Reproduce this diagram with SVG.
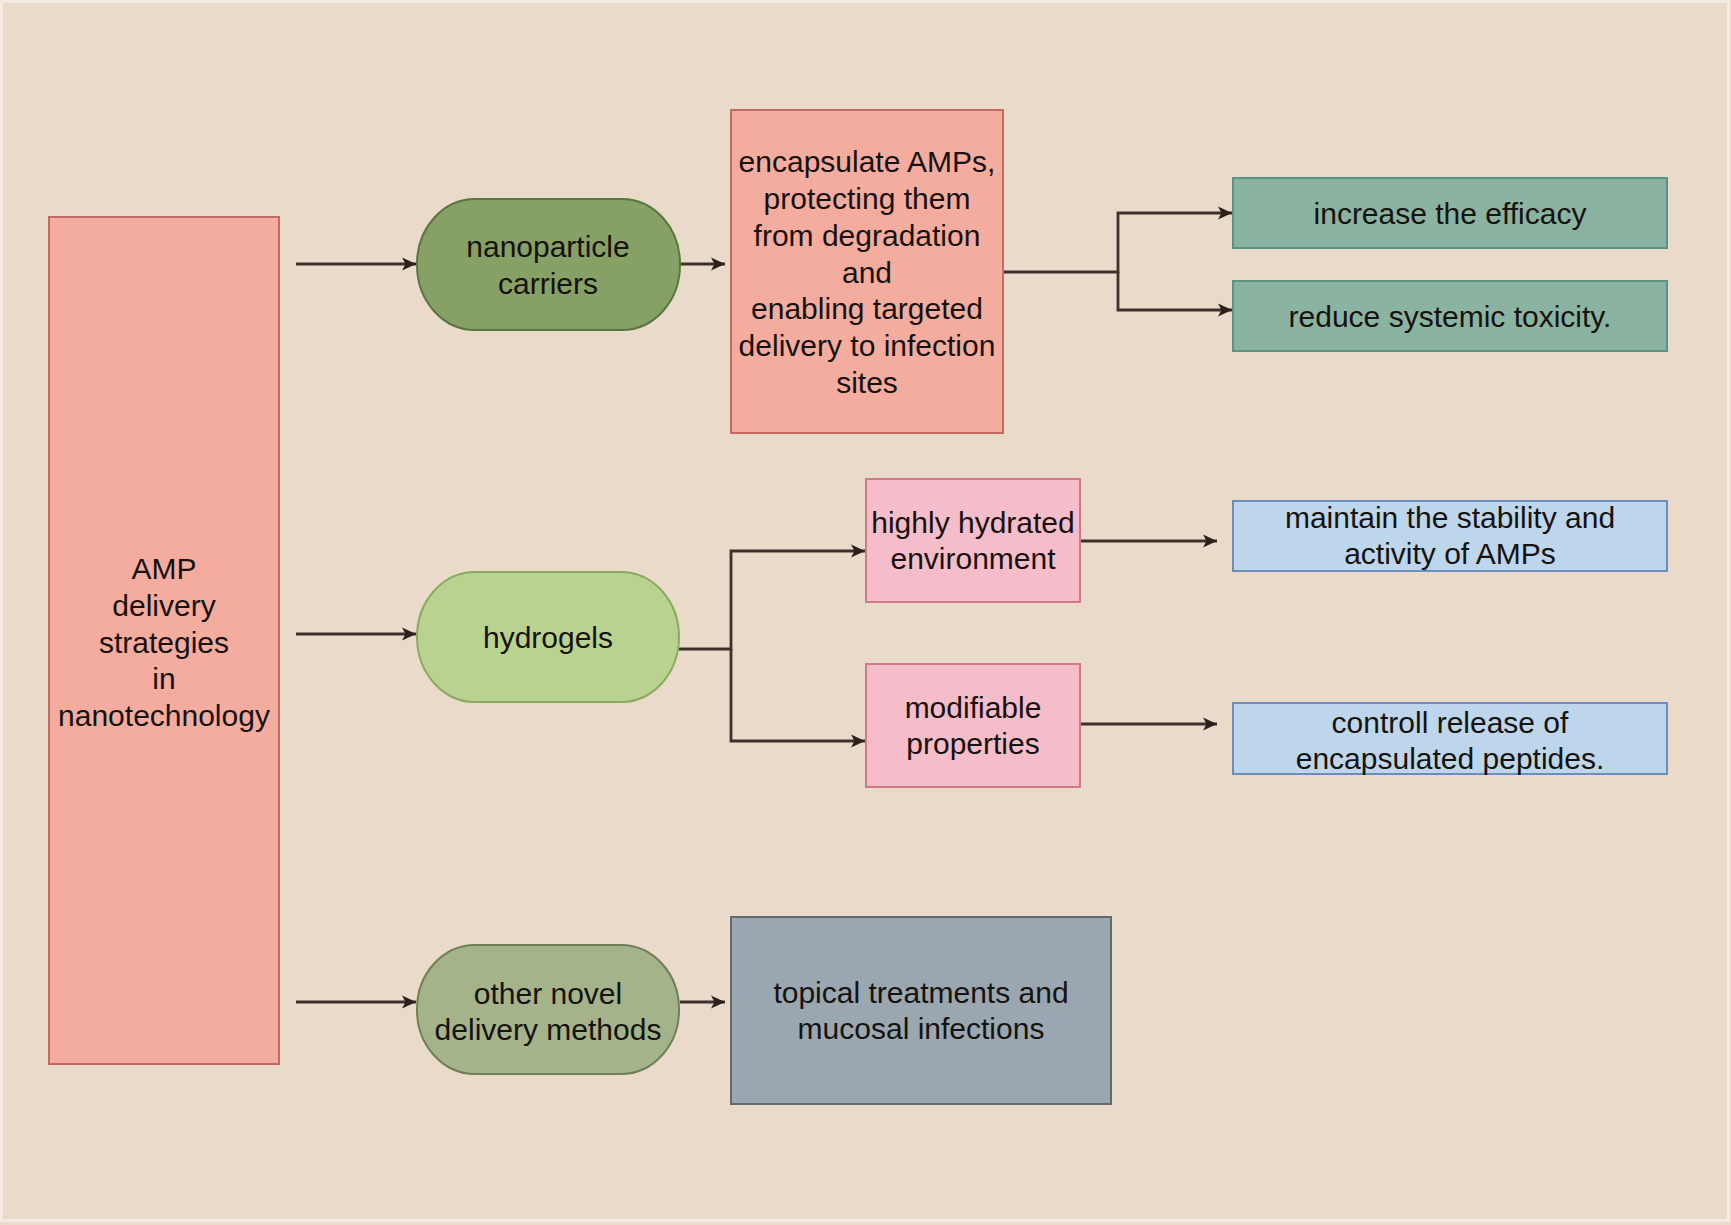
<svg xmlns="http://www.w3.org/2000/svg" width="1731" height="1225" viewBox="0 0 1731 1225">
<defs>
<marker id="arr" markerUnits="userSpaceOnUse" markerWidth="16" markerHeight="14" refX="14" refY="7" orient="auto">
<path d="M0,0.5 L14,7 L0,13.5 L3.5,7 z" fill="#2a211d"/>
</marker>
<style>
text{font-family:"Liberation Sans",Arial,Helvetica,sans-serif;font-size:30px;fill:#16120f;text-anchor:middle}
.edge{fill:none;stroke:#3d312c;stroke-width:2.8}
.red{fill:#F4AC9F;stroke:#C56A60;stroke-width:2}
.g1{fill:#86A065;stroke:#5A7540;stroke-width:2}
.g2{fill:#B9D290;stroke:#8AAA60;stroke-width:2}
.g3{fill:#A4B38A;stroke:#6E7F58;stroke-width:2}
.teal{fill:#8BB3A1;stroke:#5C9380;stroke-width:2}
.pink{fill:#F5BCCA;stroke:#D27888;stroke-width:2}
.blue{fill:#BDD6EC;stroke:#6C8EBF;stroke-width:2}
.gray{fill:#9AA7B1;stroke:#5F6A72;stroke-width:2}
</style>
</defs>
<rect x="0" y="0" width="1731" height="1225" fill="#EADACA"/>
<rect x="1.5" y="1.5" width="1727" height="1219" fill="none" stroke="#F3EAE1" stroke-width="3"/>

<g id="connectors">
<path class="edge" d="M296,264 H416" marker-end="url(#arr)"/>
<path class="edge" d="M296,634 H416" marker-end="url(#arr)"/>
<path class="edge" d="M296,1002 H416" marker-end="url(#arr)"/>
<path class="edge" d="M680,264 H725" marker-end="url(#arr)"/>
<path class="edge" d="M680,1002 H725" marker-end="url(#arr)"/>
<path class="edge" d="M1003,272 H1118 V213 H1232" marker-end="url(#arr)"/>
<path class="edge" d="M1118,272 V310 H1232" marker-end="url(#arr)"/>
<path class="edge" d="M679,649 H731 V551 H865" marker-end="url(#arr)"/>
<path class="edge" d="M731,649 V741 H865" marker-end="url(#arr)"/>
<path class="edge" d="M1080,541 H1217" marker-end="url(#arr)"/>
<path class="edge" d="M1080,724 H1217" marker-end="url(#arr)"/>
</g>

<g id="main">
<rect class="red" x="49" y="217" width="230" height="847"/>
<text x="164" y="579">AMP</text>
<text x="164" y="616">delivery</text>
<text x="164" y="653">strategies</text>
<text x="164" y="689">in</text>
<text x="164" y="726">nanotechnology</text>
</g>

<g id="nanoparticle">
<rect class="g1" x="417" y="199" width="263" height="131" rx="58" ry="65"/>
<text x="548" y="257">nanoparticle</text>
<text x="548" y="294">carriers</text>
</g>

<g id="encapsulate">
<rect class="red" x="731" y="110" width="272" height="323"/>
<text x="867" y="172">encapsulate AMPs,</text>
<text x="867" y="209">protecting them</text>
<text x="867" y="246">from degradation</text>
<text x="867" y="283">and</text>
<text x="867" y="319">enabling targeted</text>
<text x="867" y="356">delivery to infection</text>
<text x="867" y="393">sites</text>
</g>

<g id="efficacy">
<rect class="teal" x="1233" y="178" width="434" height="70"/>
<text x="1450" y="224">increase the efficacy</text>
</g>

<g id="toxicity">
<rect class="teal" x="1233" y="281" width="434" height="70"/>
<text x="1450" y="327">reduce systemic toxicity.</text>
</g>

<g id="hydrogels">
<rect class="g2" x="417" y="572" width="262" height="130" rx="58" ry="65"/>
<text x="548" y="648">hydrogels</text>
</g>

<g id="hydrated">
<rect class="pink" x="866" y="479" width="214" height="123"/>
<text x="973" y="533">highly hydrated</text>
<text x="973" y="569">environment</text>
</g>

<g id="stability">
<rect class="blue" x="1233" y="501" width="434" height="70"/>
<text x="1450" y="528">maintain the stability and</text>
<text x="1450" y="564">activity of AMPs</text>
</g>

<g id="modifiable">
<rect class="pink" x="866" y="664" width="214" height="123"/>
<text x="973" y="718">modifiable</text>
<text x="973" y="754">properties</text>
</g>

<g id="release">
<rect class="blue" x="1233" y="703" width="434" height="71"/>
<text x="1450" y="733">controll release of</text>
<text x="1450" y="769">encapsulated peptides.</text>
</g>

<g id="novel">
<rect class="g3" x="417" y="945" width="262" height="129" rx="58" ry="64"/>
<text x="548" y="1004">other novel</text>
<text x="548" y="1040">delivery methods</text>
</g>

<g id="topical">
<rect class="gray" x="731" y="917" width="380" height="187"/>
<text x="921" y="1003">topical treatments and</text>
<text x="921" y="1039">mucosal infections</text>
</g>
</svg>
